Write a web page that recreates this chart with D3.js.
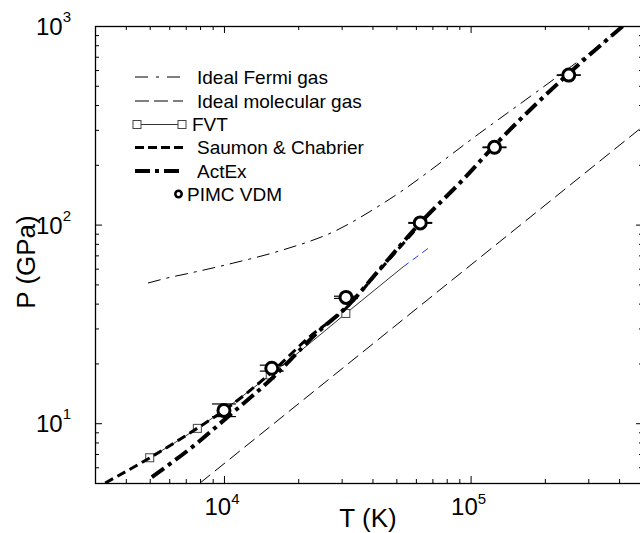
<!DOCTYPE html>
<html><head><meta charset="utf-8">
<script src="https://cdn.jsdelivr.net/npm/d3@7"></script>
<style>html,body{margin:0;padding:0;background:#fff}svg{display:block}</style>
</head><body><svg id="c" width="640" height="533"></svg>
<script>
// ---------- data ----------
const xMajor = [1e4, 1e5];
const xMinor = [4000,5000,6000,7000,8000,9000,20000,30000,40000,50000,60000,70000,80000,90000,200000,300000,400000];
const yMajor = [10, 100, 1000];
const yMinor = [6,7,8,9,20,30,40,50,60,70,80,90,200,300,400,500,600,700,800,900];
const xTickLabels = ["4","5"];       // exponents of 10^n
const yTickLabels = ["1","2","3"];

const fermiT = [4920, 5870, 7280, 10900, 17300, 27700, 44200, 109000, 415000, 480000];
const fermiP = [50.8, 53.8, 57, 64, 74.5, 91.8, 128, 289, 988, 1140];

const molT = [8000, 500000];
const molP = [5, 312.5];

const fvtT = [5000, 7800, 15400, 31200];
const fvtP = [6.7, 9.42, 17.5, 35.7];
const fvtExtT = [31200, 53200];
const fvtExtP = [35.7, 61.2];
const blueT = [53200, 68400];
const blueP = [61.2, 77.1];

const scT = [3300, 5010, 7780, 9910, 15400, 22300, 31000, 43000, 62400];
const scP = [5.0, 6.7, 9.42, 11.5, 17.8, 27.3, 37.6, 59.5, 100];

const actT = [5100, 7780, 10300, 15400, 24500, 31500, 43000, 62500, 93000, 125000, 246000, 415000];
const actP = [5.36, 7.94, 10.7, 16.5, 29.4, 38.6, 60, 102, 168, 250, 566, 1000];

const pimcT = [10000, 15625, 31250, 62500, 125000, 250000];
const pimcP = [11.6, 18.9, 43, 102, 245, 566];
const pimcLo = [10.8, 18.3, 42.5, 101.5, 244, 565];
const pimcHi = [12.5, 19.6, 43.6, 102.5, 246, 567];

const legendLabels = ["Ideal Fermi gas","Ideal molecular gas","FVT","Saumon & Chabrier","ActEx","PIMC VDM"];

// ---------- chart ----------
const svg = d3.select("#c");
const FONT = "Arial, 'Liberation Sans', Helvetica, sans-serif";
const L = 95, R = 643, T = 26, B = 483;
const x = d3.scaleLog().domain([3000, 5e5]).range([L, R]);
const y = d3.scaleLog().domain([5, 1000]).range([B, T]);

svg.append("defs").append("clipPath").attr("id","clip")
  .append("rect").attr("x",L).attr("y",T).attr("width",R-L).attr("height",B-T);

// axes (ticks inward)
function ax(gen, vals, size, tr){
  const g = svg.append("g").attr("transform", tr)
    .call(gen.tickValues(vals).tickSize(size).tickFormat(""));
  g.select(".domain").remove();
  g.selectAll("line").attr("stroke","#000").attr("stroke-width",1);
  return g;
}
ax(d3.axisBottom(x), xMajor, -7, `translate(0,${B})`);
ax(d3.axisBottom(x), xMinor, -4, `translate(0,${B})`);
ax(d3.axisTop(x), xMajor, -7, `translate(0,${T})`);
ax(d3.axisTop(x), xMinor, -4, `translate(0,${T})`);
ax(d3.axisLeft(y), yMajor, -7, `translate(${L},0)`);
ax(d3.axisLeft(y), yMinor, -4, `translate(${L},0)`);
ax(d3.axisRight(y), yMajor, -7, `translate(${R},0)`);
ax(d3.axisRight(y), yMinor, -4, `translate(${R},0)`);

svg.append("rect").attr("x",L+0.5).attr("y",T+0.5).attr("width",R-L).attr("height",B-T)
  .attr("fill","none").attr("stroke","#000").attr("stroke-width",1.3);

// tick labels
xMajor.forEach((v,i)=>{
  const t = svg.append("text").attr("x", x(v)-2).attr("y", 515)
    .attr("text-anchor","middle").attr("font-family",FONT).attr("font-size",24).attr("fill","#000");
  t.append("tspan").text("10");
  t.append("tspan").attr("dy",-11).attr("font-size",15).text(xTickLabels[i]);
});
yMajor.forEach((v,i)=>{
  const t = svg.append("text").attr("x", 71).attr("y", y(v)+9)
    .attr("text-anchor","end").attr("font-family",FONT).attr("font-size",24).attr("fill","#000");
  t.append("tspan").text("10");
  t.append("tspan").attr("dy",-13).attr("font-size",15).text(yTickLabels[i]);
});

svg.append("text").attr("x",368).attr("y",527).attr("text-anchor","middle")
  .attr("font-family",FONT).attr("font-size",26).text("T (K)");
svg.append("text").attr("transform","translate(35,262) rotate(-90)").attr("text-anchor","middle")
  .attr("font-family",FONT).attr("font-size",26).text("P (GPa)");

// series
const plot = svg.append("g").attr("clip-path","url(#clip)");
const line = d3.line().x(d=>x(d[0])).y(d=>y(d[1])).curve(d3.curveMonotoneX);
const zip = (a,b)=>a.map((v,i)=>[v,b[i]]);

function path(data, stroke, width, dash){
  plot.append("path").datum(data).attr("d", line).attr("fill","none")
    .attr("stroke", stroke).attr("stroke-width", width)
    .attr("stroke-dasharray", dash || null);
}
path(zip(fermiT,fermiP), "#000", 1, "13,6,3,6");
path(zip(molT,molP), "#000", 1, "13,6");
path(zip(fvtT,fvtP), "#333", 1);
path(zip(fvtExtT,fvtExtP), "#333", 1);
path(zip(blueT,blueP), "#2030ff", 1, "7,5");
plot.selectAll("rect.fvt").data(zip(fvtT,fvtP)).enter().append("rect")
  .attr("x",d=>x(d[0])-4).attr("y",d=>y(d[1])-4).attr("width",8).attr("height",8)
  .attr("fill","#fff").attr("stroke","#444").attr("stroke-width",1);
path(zip(scT,scP), "#000", 3, "9,5");
path(zip(actT,actP), "#000", 4, "15,5,4,5");

// PIMC error bars & circles
const pimc = pimcT.map((t,i)=>({t, p:pimcP[i], lo:pimcLo[i], hi:pimcHi[i]}));
const eb = plot.append("g").attr("stroke","#000").attr("stroke-width",1.2);
pimc.forEach(d=>{
  const cx = x(d.t);
  eb.append("line").attr("x1",cx-12).attr("x2",cx+12).attr("y1",y(d.hi)).attr("y2",y(d.hi));
  eb.append("line").attr("x1",cx-12).attr("x2",cx+12).attr("y1",y(d.lo)).attr("y2",y(d.lo));
  eb.append("line").attr("x1",cx).attr("x2",cx).attr("y1",y(d.hi)).attr("y2",y(d.lo));
});
plot.selectAll("circle.pimc").data(pimc).enter().append("circle")
  .attr("cx",d=>x(d.t)).attr("cy",d=>y(d.p)).attr("r",6)
  .attr("fill","#fff").attr("stroke","#000").attr("stroke-width",3);

// legend
const lg = svg.append("g").attr("font-family",FONT).attr("font-size",19).attr("fill","#000");
const rows = [77, 101, 124.5, 147.5, 171, 194];
function lline(yv, w, dash, col){
  lg.append("line").attr("x1",135).attr("x2",183).attr("y1",yv).attr("y2",yv)
    .attr("stroke",col||"#000").attr("stroke-width",w).attr("stroke-dasharray",dash||null);
}
lline(rows[0],1,"13,8,3,8");
lline(rows[1],1,"14,5");
lline(rows[2],1,null,"#333");
[137,182].forEach(cx=>lg.append("rect").attr("x",cx-4).attr("y",rows[2]-4).attr("width",8).attr("height",8)
  .attr("fill","#fff").attr("stroke","#444").attr("stroke-width",1));
lline(rows[3],3,"9,4");
lline(rows[4],4,"15,5,4,5");
lg.append("circle").attr("cx",178.5).attr("cy",rows[5]).attr("r",3.2)
  .attr("fill","#fff").attr("stroke","#000").attr("stroke-width",2.5);
const tx = [197,197,192,197,197,187];
legendLabels.forEach((s,i)=>{
  lg.append("text").attr("x",tx[i]).attr("y",rows[i]+6.5).text(s);
});
</script></body></html>
